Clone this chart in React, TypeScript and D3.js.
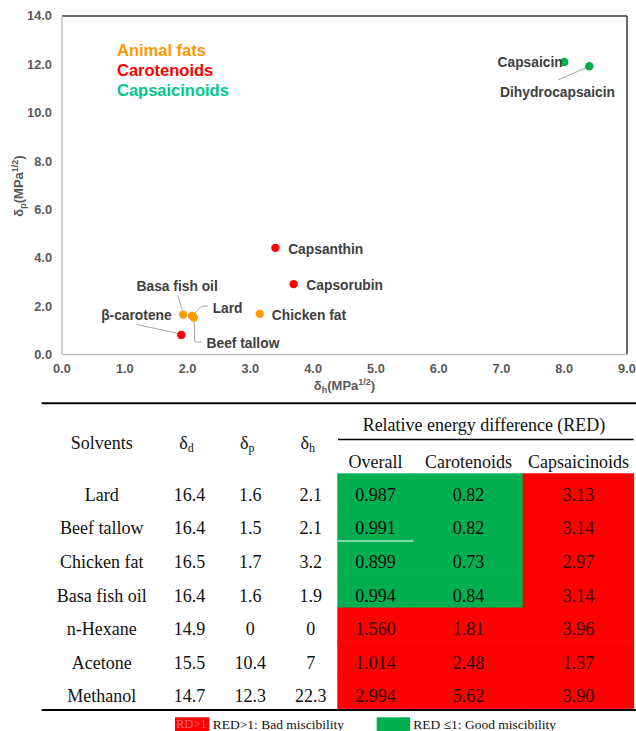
import React from "react";
import * as d3 from "d3";

// ---------- scatter data ----------
const pointNames = ["Lard", "Beef tallow", "Chicken fat", "Basa fish oil", "β-carotene", "Capsanthin", "Capsorubin", "Capsaicin", "Dihydrocapsaicin"];
const pointDh = [2.07, 2.1, 3.15, 1.93, 1.9, 3.4, 3.69, 8.0, 8.4];
const pointDp = [1.6, 1.53, 1.68, 1.65, 0.81, 4.41, 2.91, 12.1, 11.92];
const pointGroup = ["fat", "fat", "fat", "fat", "carotenoid", "carotenoid", "carotenoid", "capsaicinoid", "capsaicinoid"];

const groupNames = ["Animal fats", "Carotenoids", "Capsaicinoids"];
const xTicks = [0, 1, 2, 3, 4, 5, 6, 7, 8, 9];
const yTicks = [0, 2, 4, 6, 8, 10, 12, 14];

// ---------- table data ----------
const solvents = ["Lard", "Beef tallow", "Chicken fat", "Basa fish oil", "n-Hexane", "Acetone", "Methanol"];
const deltaD = ["16.4", "16.4", "16.5", "16.4", "14.9", "15.5", "14.7"];
const deltaP = ["1.6", "1.5", "1.7", "1.6", "0", "10.4", "12.3"];
const deltaH = ["2.1", "2.1", "3.2", "1.9", "0", "7", "22.3"];
const redOverall = ["0.987", "0.991", "0.899", "0.994", "1.560", "1.014", "2.994"];
const redCarotenoids = ["0.82", "0.82", "0.73", "0.84", "1.81", "2.48", "5.62"];
const redCapsaicinoids = ["3.13", "3.14", "2.97", "3.14", "3.96", "1.37", "3.90"];
const redHeaders = ["Overall", "Carotenoids", "Capsaicinoids"];

// ---------- layout / styles ----------
const groupColor: Record<string, string> = { fat: "#FF9A00", carotenoid: "#FF0000", capsaicinoid: "#00B050" };
const legendColors = ["#FF9900", "#FF0000", "#00C78C"];
// label placement relative to point (px): [dx, dy, anchor], plus leader polyline
const labelLayout: Record<string, { dx: number; dy: number; anchor: string; leader?: number[][] }> = {
  "Lard": { dx: 20.7, dy: -7.7, anchor: "start", leader: [[16, -9.7], [9.4, -9.7], [2.7, -2.5]] },
  "Beef tallow": { dx: 12.7, dy: 25.4, anchor: "start", leader: [[0.3, 1], [1, 24.4], [7.7, 24.4]] },
  "Chicken fat": { dx: 12, dy: 1.3, anchor: "start" },
  "Basa fish oil": { dx: -6, dy: -28.6, anchor: "middle", leader: [[-5.3, -18.8], [-0.8, -4.3]] },
  "β-carotene": { dx: -9.6, dy: -19.7, anchor: "end", leader: [[-44.6, -10.4], [-3, -1.4]] },
  "Capsanthin": { dx: 12.7, dy: 1.3, anchor: "start" },
  "Capsorubin": { dx: 12.7, dy: 1, anchor: "start" },
  "Capsaicin": { dx: -1.5, dy: 0, anchor: "end" },
  "Dihydrocapsaicin": { dx: -89.3, dy: 25.4, anchor: "start", leader: [[-31.3, 13.7], [-3, 1.3]] },
};

const SANS = "'Liberation Sans', Arial, sans-serif";
const SERIF = "'Liberation Serif', 'Times New Roman', serif";

export default function App() {
  const x = d3.scaleLinear().domain([0, 9]).range([62, 627]);
  const y = d3.scaleLinear().domain([0, 14]).range([354.5, 16]);

  const rowBand = d3.scaleBand().domain(solvents).range([473.3, 708.3]);
  const colCenters = { solv: 101.7, dd: 189.5, dp: 250.3, dh: 310.8 };
  const redCols = [
    { vals: redOverall, x0: 337.3, x1: 413.5, cx: 375.5 },
    { vals: redCarotenoids, x0: 413.5, x1: 522.7, cx: 468.5 },
    { vals: redCapsaicinoids, x0: 522.7, x1: 633.5, cx: 578.5 },
  ];
  const line = d3.line();

  return (
    <svg width={636} height={731} style={{ position: "absolute", left: 0, top: 0, background: "#fff" }}>
      {/* ---------- scatter chart ---------- */}
      <g fontFamily={SANS} fontWeight="bold">
        {/* frame */}
        <line x1={x(0)} x2={x(9)} y1={y(14)} y2={y(14)} stroke="#3a3a3a" strokeWidth={1.3} />
        <line x1={x(9)} x2={x(9)} y1={y(14)} y2={y(0)} stroke="#1a1a1a" strokeWidth={1.3} />
        <line x1={x(0)} x2={x(0)} y1={y(14)} y2={y(0)} stroke="#c0c0c0" strokeWidth={1.5} />
        <line x1={x(0)} x2={x(9)} y1={y(0)} y2={y(0)} stroke="#c0c0c0" strokeWidth={1.5} />
        {/* ticks */}
        {yTicks.map((t) => (
          <text key={"y" + t} x={52} y={y(t)} dy="0.35em" textAnchor="end" fontSize={12.8} fill="#595959">
            {t.toFixed(1)}
          </text>
        ))}
        {xTicks.map((t) => (
          <text key={"x" + t} x={x(t)} y={369} dy="0.35em" textAnchor="middle" fontSize={12.8} fill="#595959">
            {t.toFixed(1)}
          </text>
        ))}
        {/* axis titles */}
        <text x={344.5} y={385} dy="0.35em" textAnchor="middle" fontSize={13} fill="#595959">
          δ<tspan fontSize={9} dy={3}>h</tspan>
          <tspan dy={-3}>(MPa</tspan>
          <tspan fontSize={9} dy={-5}>1/2</tspan>
          <tspan dy={5}>)</tspan>
        </text>
        <text transform="translate(23,186) rotate(-90)" textAnchor="middle" fontSize={13} fill="#595959">
          δ<tspan fontSize={9} dy={3}>p</tspan>
          <tspan dy={-3}>(MPa</tspan>
          <tspan fontSize={9} dy={-5}>1/2</tspan>
          <tspan dy={5}>)</tspan>
        </text>
        {/* group legend */}
        {groupNames.map((g, i) => (
          <text key={g} x={117} y={50 + i * 20.3} dy="0.35em" fontSize={16.5} fill={legendColors[i]}>
            {g}
          </text>
        ))}
        {/* leaders */}
        {pointNames.map((n, i) => {
          const L = labelLayout[n];
          if (!L.leader) return null;
          const px = x(pointDh[i]);
          const py = y(pointDp[i]);
          const pts = L.leader.map(([a, b]) => [px + a, py + b] as [number, number]);
          return <path key={"l" + n} d={line(pts) || ""} fill="none" stroke="#a6a6a6" strokeWidth={1} />;
        })}
        {/* points */}
        {pointNames.map((n, i) => (
          <circle key={"p" + n} cx={x(pointDh[i])} cy={y(pointDp[i])} r={4.2} fill={groupColor[pointGroup[i]]} />
        ))}
        {/* labels */}
        {pointNames.map((n, i) => {
          const L = labelLayout[n];
          return (
            <text key={"t" + n} x={x(pointDh[i]) + L.dx} y={y(pointDp[i]) + L.dy} dy="0.35em" textAnchor={L.anchor as any} fontSize={13.8} fill="#404040">
              {n}
            </text>
          );
        })}
      </g>

      {/* ---------- table ---------- */}
      <g fontFamily={SERIF} fontSize={18} fill="#111">
        <line x1={41.7} x2={636} y1={403.3} y2={403.3} stroke="#000" strokeWidth={2} />
        <text x={484} y={425} dy="0.35em" textAnchor="middle">Relative energy difference (RED)</text>
        <line x1={338} x2={633.5} y1={439.5} y2={439.5} stroke="#000" strokeWidth={1.5} />
        <text x={colCenters.solv} y={443} dy="0.35em" textAnchor="middle">Solvents</text>
        {[["d", colCenters.dd], ["p", colCenters.dp], ["h", colCenters.dh]].map(([s, cx]) => (
          <text key={"h" + s} x={(cx as number) - 3} y={443} dy="0.35em" textAnchor="middle">
            δ<tspan fontSize={12} dy={3}>{s}</tspan>
          </text>
        ))}
        {redHeaders.map((h, j) => (
          <text key={h} x={redCols[j].cx} y={461.7} dy="0.35em" textAnchor="middle">{h}</text>
        ))}
        {/* coloured cells */}
        {redCols.map((c, j) =>
          c.vals.map((v, i) => {
            const y0 = rowBand(solvents[i])!;
            return (
              <rect key={"c" + j + i} x={c.x0} y={y0} width={c.x1 - c.x0 + 0.6} height={rowBand.bandwidth() + 0.6}
                fill={parseFloat(v) <= 1 ? "#00B050" : "#FF0000"} />
            );
          })
        )}
        <line x1={337.3} x2={413.3} y1={541} y2={541} stroke="#fff" strokeWidth={1} />
        {solvents.map((s, i) => {
          const cy = rowBand(s)! + rowBand.bandwidth() / 2 + 4.5;
          return (
            <g key={"r" + s}>
              <text x={colCenters.solv} y={cy} dy="0.35em" textAnchor="middle">{s}</text>
              <text x={colCenters.dd} y={cy} dy="0.35em" textAnchor="middle">{deltaD[i]}</text>
              <text x={colCenters.dp} y={cy} dy="0.35em" textAnchor="middle">{deltaP[i]}</text>
              <text x={colCenters.dh} y={cy} dy="0.35em" textAnchor="middle">{deltaH[i]}</text>
              {redCols.map((c, j) => (
                <text key={j} x={c.cx} y={cy} dy="0.35em" textAnchor="middle"
                  fill={parseFloat(c.vals[i]) <= 1 ? "#0a0a0a" : "#2a0000"}>{c.vals[i]}</text>
              ))}
            </g>
          );
        })}
        <line x1={41.7} x2={636} y1={710} y2={710} stroke="#000" strokeWidth={2} />
        {/* legend */}
        <rect x={175} y={717.3} width={34.3} height={14} fill="#FF0000" />
        <text x={176} y={724} dy="0.35em" fontSize={12.5} fill="#FF6A6A">RD&gt;1</text>
        <text x={212.7} y={724} dy="0.35em" fontSize={13.5}>RED&gt;1: Bad miscibility</text>
        <rect x={376.7} y={717.3} width={33.5} height={14} fill="#00B050" />
        <text x={413.3} y={724} dy="0.35em" fontSize={13.5}>RED ≤1: Good miscibility</text>
      </g>
    </svg>
  );
}
